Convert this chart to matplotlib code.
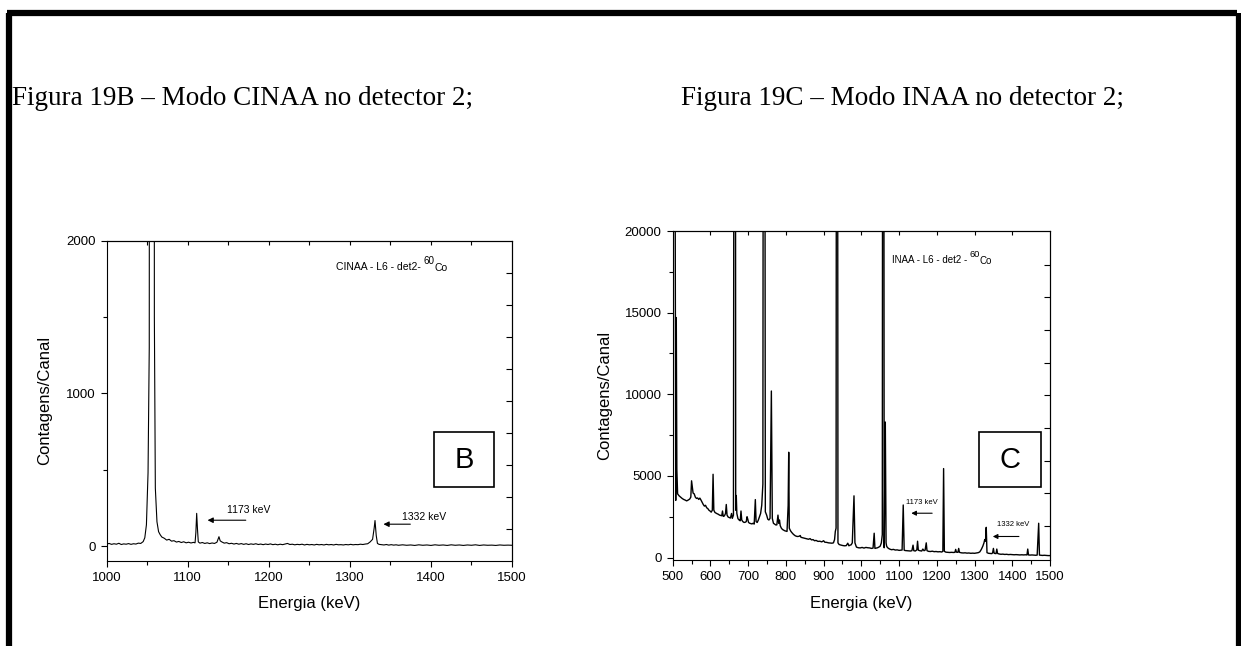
import matplotlib
matplotlib.use("Agg")
import matplotlib.pyplot as plt
from matplotlib.patches import Rectangle
from matplotlib.lines import Line2D

plt.rcParams['font.family'] = ['Liberation Sans', 'DejaVu Sans']

# ---- Figura 19B: CINAA, detector 2 ----
energia_B = [1000, 1003, 1006, 1009, 1012, 1015, 1018, 1021, 1024, 1027, 1030, 1033, 1036, 1039, 1042,
             1045, 1047, 1049, 1051, 1052.5, 1056, 1058.8, 1060, 1062, 1064, 1066, 1068, 1071, 1074,
             1077, 1080, 1083, 1086, 1089, 1092, 1095, 1098, 1101, 1104, 1107, 1109, 1110, 1111,
             1112, 1113, 1115, 1118, 1121, 1124, 1127, 1130, 1133, 1136, 1138.5, 1140, 1142, 1145,
             1148, 1151, 1154, 1157, 1160, 1163, 1166, 1169, 1172, 1175, 1178, 1181, 1184, 1187,
             1190, 1193, 1196, 1199, 1202, 1205, 1208, 1211, 1214, 1217, 1220, 1223, 1226, 1229,
             1232, 1235, 1238, 1241, 1244, 1247, 1250, 1253, 1256, 1259, 1262, 1265, 1268, 1271,
             1274, 1277, 1280, 1283, 1286, 1289, 1292, 1295, 1298, 1301, 1304, 1307, 1310, 1313,
             1316, 1319, 1322, 1325, 1328, 1330, 1331, 1332.5, 1334, 1336, 1339, 1342, 1345, 1348,
             1351, 1354, 1357, 1360, 1365, 1370, 1375, 1380, 1385, 1390, 1395, 1400, 1405, 1410,
             1415, 1420, 1425, 1430, 1435, 1440, 1445, 1450, 1455, 1460, 1465, 1470, 1475, 1480,
             1485, 1490, 1495, 1500]
contagens_B = [14, 18, 12, 16, 13, 19, 11, 15, 13, 17, 12, 16, 14, 20, 18,
               30, 55, 140, 480, 1300, 40000, 1500, 380, 160, 95, 75, 60, 52, 40,
               45, 33, 36, 27, 31, 24, 29, 22, 26, 21, 25, 22, 90, 215,
               110, 28, 20, 24, 18, 22, 17, 21, 18, 26, 62, 35, 28, 20,
               23, 16, 19, 14, 18, 13, 17, 12, 16, 11, 15, 12, 16, 11,
               14, 10, 14, 11, 15, 10, 13, 9, 13, 10, 14, 18, 11, 13,
               9, 12, 10, 13, 8, 12, 9, 11, 8, 12, 9, 11, 8, 12,
               9, 11, 8, 12, 9, 10, 8, 11, 9, 12, 9, 11, 10, 13,
               11, 14, 16, 28, 45, 120, 168, 70, 18, 12, 10, 8, 11, 7,
               10, 7, 9, 6, 9, 6, 8, 5, 9, 6, 8, 5, 9, 6,
               8, 5, 9, 6, 8, 5, 8, 6, 9, 5, 8, 6, 7, 5,
               8, 6, 7, 6]

# ---- Figura 19C: INAA, detector 2 ----
energia_C = [500, 502, 508, 509.5, 511, 513, 517, 521, 525, 529, 533, 537, 541, 545, 548, 550, 552,
             554, 557, 560, 563, 566, 569, 572, 575, 578, 581, 584, 587, 590, 593, 596, 599, 602,
             605, 607, 609, 612, 615, 618, 621, 624, 627, 630, 632, 634, 637, 640, 642, 644, 647,
             650, 653, 656, 658, 661, 665, 667, 668.5, 670, 673, 676, 679, 681, 683, 686, 689, 692,
             695, 697, 699, 701, 704, 707, 710, 713, 716, 719, 721, 724, 727, 730, 733, 736, 739,
             742, 745.5, 749, 752, 755, 758, 761.5, 764, 767, 770, 773, 776, 779, 781, 783, 785,
             788, 791, 794, 797, 800, 803, 806, 807.5, 809, 812, 815, 820, 825, 830, 835, 838,
             840, 845, 850, 855, 860, 864, 868, 872, 876, 880, 885, 890, 895, 900, 903, 908, 913,
             918, 922, 926, 929, 931, 933, 935.5, 938, 941, 945, 950, 955, 960, 964, 967, 970, 973,
             976, 980.5, 983, 987, 992, 997, 1002, 1007, 1012, 1017, 1022, 1027, 1031, 1034, 1036,
             1039, 1043, 1047, 1050, 1053, 1055.5, 1058, 1060.5, 1063.5, 1065.5, 1067, 1069, 1072,
             1076, 1080, 1085, 1090, 1095, 1100, 1104, 1108, 1111, 1113.5, 1116, 1120, 1125, 1130,
             1134, 1137, 1139, 1143, 1147, 1149, 1151, 1155, 1160, 1163, 1166, 1169, 1172, 1174,
             1178, 1183, 1188, 1193, 1198, 1203, 1208, 1213, 1216, 1218, 1220, 1224, 1229, 1234,
             1239, 1244, 1248, 1250, 1252, 1256, 1258, 1260, 1265, 1270, 1275, 1280, 1285, 1290,
             1295, 1300, 1305, 1310, 1314, 1318, 1322, 1325, 1327, 1329, 1331, 1333, 1337, 1342,
             1346, 1348, 1350, 1352, 1355, 1357, 1359, 1361, 1365, 1370, 1375, 1380, 1385, 1390,
             1395, 1400, 1405, 1410, 1415, 1420, 1425, 1430, 1435, 1439, 1441, 1443, 1447, 1452,
             1457, 1462, 1466, 1470, 1472, 1475, 1480, 1485, 1490, 1495, 1500]
contagens_C = [4000, 80000, 3500, 14700, 5400, 3900, 3780, 3700, 3620, 3560, 3520, 3470, 3520, 3580, 3700, 4700, 4300,
               3950, 3900, 3700, 3620, 3650, 3560, 3640, 3520, 3380, 3250, 3150, 3200, 3050, 3000, 2900, 2850, 2780,
               2900, 5100, 2900, 2760, 2720, 2680, 2650, 2600, 2580, 2560, 2850, 2520, 2550, 2700, 3250, 2600, 2480,
               2450, 2420, 2700, 2400, 2600, 90000, 2900, 3800, 2700, 2380, 2300, 2250, 2850, 2300, 2200, 2150, 2160,
               2200, 2500, 2350, 2150, 2100, 2080, 2060, 2100, 2050, 3550, 2200, 2150, 2300, 2500, 2700, 3200, 4500,
               90000, 2800, 2600, 2350, 2300, 2400, 10200, 2400, 2100, 2050, 2000, 2000, 2600, 2100, 2300, 1950,
               1800, 1720, 1680, 1640, 1620, 1600, 3200, 6450, 1800, 1650, 1550, 1420, 1330, 1290, 1300, 1350,
               1240, 1210, 1180, 1150, 1120, 1160, 1080, 1100, 1030, 1050, 990, 1000, 960, 1030, 940, 930, 900,
               890, 880, 900, 1100, 1600, 1800, 90000, 900, 800, 770, 740, 720, 730, 880, 720, 760, 780,
               900, 3780, 900, 640, 600, 590, 620, 580, 620, 600, 590, 560, 580, 1490, 560,
               580, 600, 650, 700, 900, 1400, 90000, 600, 8300, 900, 700, 620, 560,
               510, 480, 500, 460, 470, 440, 450, 460, 3220, 450, 430, 420, 410, 400,
               420, 760, 420, 400, 470, 1000, 450, 420, 400, 520, 420, 450, 900, 420,
               380, 370, 390, 360, 370, 350, 360, 340, 380, 5450, 380, 330, 320, 310,
               320, 310, 320, 500, 330, 320, 560, 320, 290, 280, 290, 270, 280, 260,
               270, 260, 280, 300, 350, 500, 700, 900, 1100, 1000, 1850, 300, 260, 250,
               240, 300, 560, 260, 250, 240, 520, 250, 220, 200, 210, 190, 200, 180,
               190, 180, 170, 180, 170, 160, 170, 160, 170, 160, 520, 160, 150, 160,
               150, 140, 150, 2100, 150, 140, 130, 140, 130, 120, 120]

titulo_B = "Figura 19B \u2013 Modo CINAA no detector 2;"
titulo_C = "Figura 19C \u2013 Modo INAA no detector 2;"

fig = plt.figure(figsize=(12.41, 6.46), dpi=100)

# moldura da pagina
for xs, ys in [([6.5/1241, 1236.5/1241], [1-13/646, 1-13/646]),
               ([9/1241, 9/1241], [0, 1-13/646]),
               ([1238.5/1241, 1238.5/1241], [0, 1-13/646])]:
    fig.add_artist(Line2D(xs, ys, color='black', lw=4.5, transform=fig.transFigure,
                          solid_capstyle='butt'))

fig.text(12/1241, 1-105/646, titulo_B, family='Liberation Serif', fontsize=19.5, va='baseline')
fig.text(681/1241, 1-105/646, titulo_C, family='Liberation Serif', fontsize=19.5, va='baseline')


def estilo(ax, fs):
    for s in ax.spines.values():
        s.set_linewidth(0.8)
    ax.tick_params(which='both', direction='out', labelsize=fs, width=0.8)
    ax.tick_params(which='major', length=4.5)
    ax.tick_params(which='minor', length=3)


def rotulo(ax, x, y, texto, fs):
    # texto + "60" sobrescrito + "Co"
    t1 = ax.text(x, y, texto, fontsize=fs, va='baseline')
    t2 = ax.annotate("60", xy=(1, 0), xycoords=t1, xytext=(0, 6), textcoords='offset pixels',
                     fontsize=fs * 0.95, va='bottom')
    ax.annotate("Co", xy=(1, 0), xycoords=t2, xytext=(0, -7), textcoords='offset pixels',
                fontsize=fs, va='bottom')


# ---- B ----
axB = fig.add_axes([106.7/1241, 1-560.7/646, 405.3/1241, 320/646])
axB.plot(energia_B, contagens_B, color='black', lw=0.8)
axB.set_xlim(1000, 1500)
axB.set_ylim(-95, 2000)
axB.set_xticks(range(1000, 1501, 100))
axB.set_xticks(range(1050, 1500, 100), minor=True)
axB.set_yticks([0, 1000, 2000])
axB.set_yticks([500, 1500], minor=True)
estilo(axB, 9.5)
topB = axB.secondary_xaxis('top')
topB.set_xticks(range(1050, 1500, 50))
topB.tick_params(direction='in', length=3, width=0.8, labeltop=False)
rightB = axB.secondary_yaxis('right')
rightB.set_yticks([110, 320, 530, 740, 950, 1160, 1370, 1580, 1790])
rightB.tick_params(direction='in', length=4, width=0.8, labelright=False)
axB.set_xlabel("Energia (keV)", fontsize=12)
axB.set_ylabel("Contagens/Canal", fontsize=12)
axB.xaxis.set_label_coords(0.5, -0.11)
axB.yaxis.set_label_coords(-0.135, 0.5)
rotulo(axB, 1283, 1810, "CINAA - L6 - det2- ", 7.5)
axB.add_patch(Rectangle((0.8076, 0.230), 0.148, 0.172, transform=axB.transAxes,
                        fill=False, lw=1.2, ec='black'))
axB.text(0.882, 0.316, "B", transform=axB.transAxes, fontsize=21, ha='center', va='center')
axB.annotate("", xy=(1121, 170), xytext=(1175, 170),
             arrowprops=dict(arrowstyle='-|>', color='black', lw=0.8, mutation_scale=8))
axB.text(1175, 236, "1173 keV", fontsize=7.5, ha='center', va='center')
axB.annotate("", xy=(1338, 144), xytext=(1378, 144),
             arrowprops=dict(arrowstyle='-|>', color='black', lw=0.8, mutation_scale=8))
axB.text(1392, 190, "1332 keV", fontsize=7.5, ha='center', va='center')

# ---- C ----
axC = fig.add_axes([672.7/1241, 1-560/646, 377.3/1241, 329/646])
axC.plot(energia_C, contagens_C, color='black', lw=1.0)
axC.set_xlim(500, 1500)
axC.set_ylim(-150, 20000)
axC.set_xticks(range(500, 1501, 100))
axC.set_xticks(range(550, 1500, 100), minor=True)
axC.set_yticks(range(0, 20001, 5000))
axC.set_yticks(range(2500, 20000, 5000), minor=True)
estilo(axC, 9.5)
topC = axC.secondary_xaxis('top')
topC.set_xticks(range(600, 1500, 100))
topC.tick_params(direction='in', length=3, width=0.8, labeltop=False)
rightC = axC.secondary_yaxis('right')
rightC.set_yticks(range(1930, 19000, 2000))
rightC.tick_params(direction='in', length=4, width=0.8, labelright=False)
axC.set_xlabel("Energia (keV)", fontsize=12)
axC.set_ylabel("Contagens/Canal", fontsize=12)
axC.xaxis.set_label_coords(0.5, -0.108)
axC.yaxis.set_label_coords(-0.16, 0.5)
rotulo(axC, 1080, 18050, "INAA - L6 - det2 - ", 7)
axC.add_patch(Rectangle((0.812, 0.223), 0.163, 0.165, transform=axC.transAxes,
                        fill=False, lw=1.2, ec='black'))
axC.text(0.8935, 0.305, "C", transform=axC.transAxes, fontsize=21, ha='center', va='center')
axC.annotate("", xy=(1125, 2715), xytext=(1195, 2715),
             arrowprops=dict(arrowstyle='-|>', color='black', lw=0.8, mutation_scale=7))
axC.text(1160, 3370, "1173 keV", fontsize=5.5, ha='center', va='center')
axC.annotate("", xy=(1341, 1290), xytext=(1425, 1290),
             arrowprops=dict(arrowstyle='-|>', color='black', lw=0.8, mutation_scale=7))
axC.text(1402, 2000, "1332 keV", fontsize=5.5, ha='center', va='center')

fig.savefig("out.png", dpi=100)
